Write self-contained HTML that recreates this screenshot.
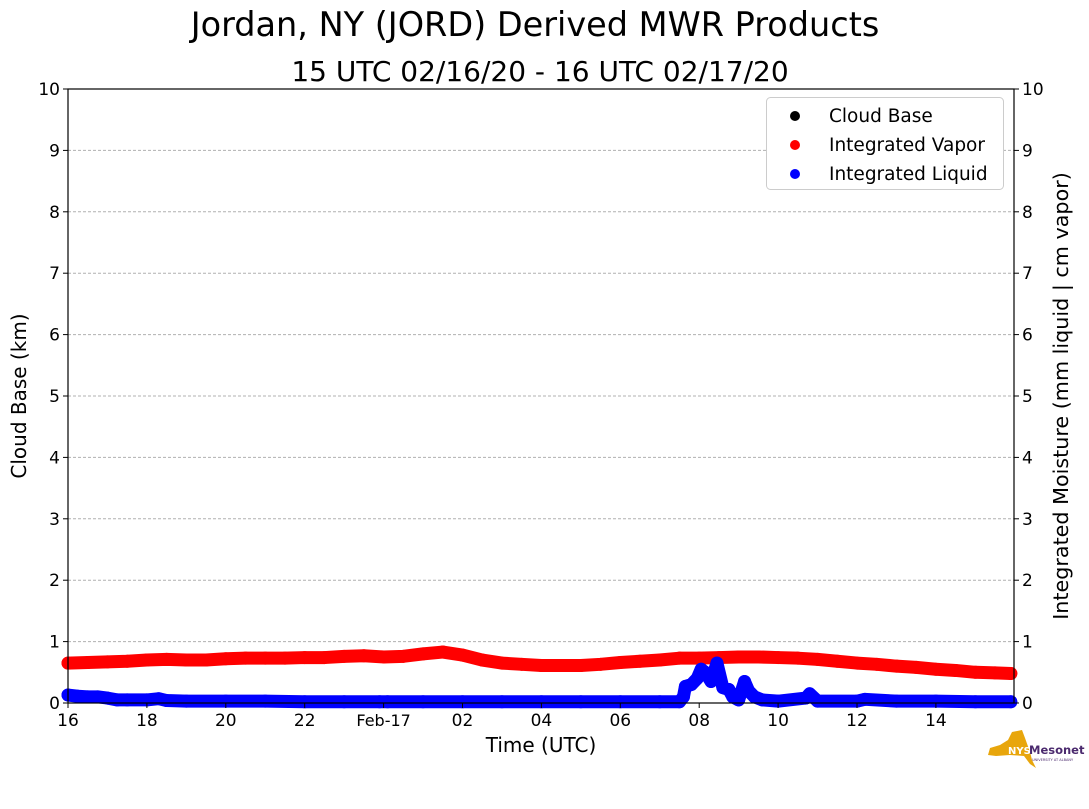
<!DOCTYPE html>
<html><head><meta charset="utf-8"><style>
body{margin:0;background:#fff;font-family:"Liberation Sans","DejaVu Sans",sans-serif}
</style></head><body>
<svg id="c" width="1089" height="804" xmlns="http://www.w3.org/2000/svg" font-family="DejaVu Sans, Liberation Sans, sans-serif">
<text x="535" y="36" font-size="33.5" text-anchor="middle">Jordan, NY (JORD) Derived MWR Products</text>
<text x="540" y="81" font-size="28" text-anchor="middle">15 UTC 02/16/20 - 16 UTC 02/17/20</text>
<g id="grid"></g><g id="marks"></g><g id="axes"></g>
<text transform="translate(26,396) rotate(-90)" font-size="20" text-anchor="middle">Cloud Base (km)</text>
<text transform="translate(1068,396) rotate(-90)" font-size="20.7" text-anchor="middle">Integrated Moisture (mm liquid | cm vapor)</text>
<text x="541" y="752" font-size="20" text-anchor="middle">Time (UTC)</text>
<g>
<rect x="766.5" y="97.5" width="237" height="92" rx="4" fill="#fff" stroke="#ccc"/>
<circle cx="795" cy="116" r="5" fill="#000"/><text x="829" y="122" font-size="18.5">Cloud Base</text>
<circle cx="795" cy="145" r="5" fill="red"/><text x="829" y="151" font-size="18.5">Integrated Vapor</text>
<circle cx="795" cy="174" r="5" fill="blue"/><text x="829" y="180" font-size="18.5">Integrated Liquid</text>
</g>
<g>
<path d="M990 748 L1000 745 L1008 740 L1012 732 L1022 730 L1025 738 L1030 752 L1032 760 L1036 768 L1030 764 L1024 756 L1010 755 L996 756 L988 755 Z" fill="#e8a60c"/>
<text x="1008" y="754" font-size="10" font-weight="bold" fill="#fff">NYS</text>
<text x="1029" y="754" font-size="11.5" font-weight="bold" fill="#4b2a6e">Mesonet</text>
<text x="1032" y="761" font-size="3.5" fill="#4b2a6e">UNIVERSITY AT ALBANY</text>
</g>
</svg>
<script>
const vaporValues=[0.65,0.66,0.67,0.68,0.70,0.71,0.70,0.70,0.72,0.73,0.73,0.73,0.74,0.74,0.76,0.77,0.75,0.76,0.80,0.83,0.78,0.70,0.65,0.63,0.61,0.61,0.61,0.63,0.66,0.68,0.70,0.73,0.73,0.74,0.75,0.75,0.74,0.73,0.71,0.68,0.65,0.63,0.60,0.58,0.55,0.53,0.50,0.49,0.48];
const vaporHours=[0,0.5,1,1.5,2,2.5,3,3.5,4,4.5,5,5.5,6,6.5,7,7.5,8,8.5,9,9.5,10,10.5,11,11.5,12,12.5,13,13.5,14,14.5,15,15.5,16,16.5,17,17.5,18,18.5,19,19.5,20,20.5,21,21.5,22,22.5,23,23.5,23.9];
const liquidHours=[0,0.25,0.5,0.75,1,1.25,1.5,2,2.3,2.5,3,4,5,6,7,7.9,8.1,9,10,11,12,13,14,15,15.5,15.6,15.65,15.8,15.95,16.05,16.15,16.3,16.45,16.6,16.75,16.85,17.0,17.15,17.25,17.4,17.6,18,18.7,18.8,19,20,20.2,21,22,23,23.9];
const liquidValues=[0.13,0.11,0.10,0.10,0.08,0.05,0.05,0.05,0.07,0.04,0.03,0.03,0.03,0.02,0.02,0.02,0.02,0.02,0.02,0.02,0.02,0.02,0.02,0.02,0.02,0.10,0.27,0.30,0.40,0.55,0.50,0.35,0.65,0.25,0.22,0.10,0.05,0.35,0.20,0.10,0.05,0.03,0.08,0.15,0.03,0.03,0.06,0.03,0.03,0.02,0.02];
const xTickHours=[0,2,4,6,8,10,12,14,16,18,20,22];
const xTickLabels=["16","18","20","22","Feb-17","02","04","06","08","10","12","14"];
const yTicks=[0,1,2,3,4,5,6,7,8,9,10];
const NS="http://www.w3.org/2000/svg";
const L=68,R=1014,T=89,B=703;
const xS=h=>L+h*39.45;
const yS=v=>B-v*(B-T)/10;
function mk(tag,attrs,parent){const e=document.createElementNS(NS,tag);for(const k in attrs)e.setAttribute(k,attrs[k]);document.getElementById(parent).appendChild(e);return e;}
yTicks.forEach(v=>{
  if(v>0&&v<10){const g=mk('line',{x1:L,x2:R,y1:yS(v),y2:yS(v),stroke:'#b0b0b0','stroke-dasharray':'3,2'},'grid');
  
  }
  [[L,-1,'end',L-8],[R,1,'start',R+8]].forEach(([x,d,a,tx])=>{
    mk('line',{x1:x,x2:x+d*5,y1:yS(v),y2:yS(v),stroke:'#000'},'axes');
    const t=mk('text',{x:tx,y:yS(v)+6,'font-size':17,'text-anchor':a},'axes');t.textContent=v;
    
    
  });
});
xTickHours.forEach((h,i)=>{
  mk('line',{x1:xS(h),x2:xS(h),y1:B,y2:B+5,stroke:'#000'},'axes');
  const t=mk('text',{x:xS(h),y:B+23,'font-size':i==4?16:17,'text-anchor':'middle'},'axes');t.textContent=xTickLabels[i];
  
  
});
const fr=mk('rect',{x:L,y:T,width:R-L,height:B-T,fill:'none',stroke:'#000','stroke-width':1.2},'axes');


function series(hours,vals,color,name){
  const pl=mk('polyline',{points:hours.map((h,i)=>xS(h)+','+yS(vals[i])).join(' '),fill:'none',stroke:color,'stroke-width':13,'stroke-linejoin':'round','stroke-linecap':'round'},'marks');
  
  
  hours.forEach((h,i)=>{const c=mk('circle',{cx:xS(h),cy:yS(vals[i]),r:6.5,fill:color},'marks');
    
    });
}
series(vaporHours,vaporValues,'red','vapor');
series(liquidHours,liquidValues,'blue','liquid');
</script>
</body></html>
